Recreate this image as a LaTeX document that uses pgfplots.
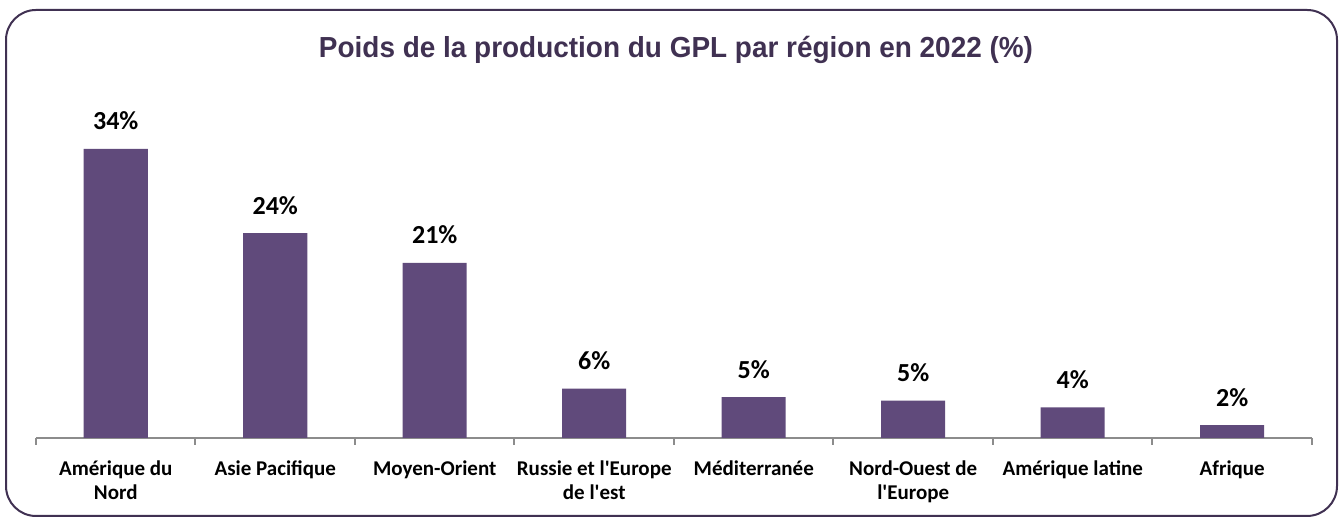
\documentclass[border=0pt]{standalone}
\usepackage{pgfplots}
\pgfplotsset{compat=1.18}
\usepackage{fontspec}
\setmainfont{Carlito}[Ligatures=TeXOff]
\newfontfamily\titlefont{Liberation Sans}
\definecolor{barc}{HTML}{604A7B}
\definecolor{titc}{HTML}{403152}
\definecolor{axc}{HTML}{8C8C8C}
\begin{document}
\begin{tikzpicture}
\useasboundingbox (0,0) rectangle (671.5pt,258.5pt);
\draw[rounded corners=15pt, line width=1pt, color=titc] (3pt,0.5pt) rectangle (668.5pt,253.5pt);
\node[anchor=base, text=titc, font=\titlefont\bfseries\fontsize{14.5}{16}\selectfont, inner sep=0pt] at (338pt,229.75pt) {\resizebox{357pt}{\height}{Poids de la production du GPL par région en 2022 (\%)}};
\begin{axis}[
  at={(18pt,39.5pt)}, anchor=south west,
  scale only axis, width=638pt, height=170pt,
  xmin=-0.5, xmax=7.5, ymin=0, ymax=40,
  axis x line*=bottom, axis y line=none,
  axis line style={draw=axc, line width=1pt},
  xtick={0,...,7},
  major x tick style={draw=none},
  xticklabels={Amérique du\\Nord, Asie Pacifique, Moyen-Orient, Russie et l'Europe\\de l'est, Méditerranée, Nord-Ouest de\\l'Europe, Amérique latine, Afrique},
  xticklabel style={align=center, anchor=north, inner sep=0pt, yshift=-11pt, font=\bfseries\fontsize{10.5}{12}\selectfont},
  extra x ticks={-0.5,0.5,...,7.5},
  extra x tick labels={},
  extra x tick style={major tick length=3.5pt, tick align=outside, major x tick style={draw=axc, line width=1pt}},
  /pgf/number format/assume math mode=true,
  clip=false,
]
\addplot[ybar, bar width=32pt, fill=barc, draw=none,
  point meta=explicit,
  nodes near coords={\pgfmathprintnumber[fixed,precision=0,assume math mode=true]{\pgfplotspointmeta}\%},
  nodes near coords style={anchor=base, yshift=9.5pt, inner sep=0pt, font=\bfseries\fontsize{13}{14}\selectfont, text=black}]
table[meta=lab] {
x y lab
0 34.0 34
1 24.1 24
2 20.6 21
3 5.8 6
4 4.8 5
5 4.4 5
6 3.6 4
7 1.5 2
};
\end{axis}
\end{tikzpicture}
\end{document}
